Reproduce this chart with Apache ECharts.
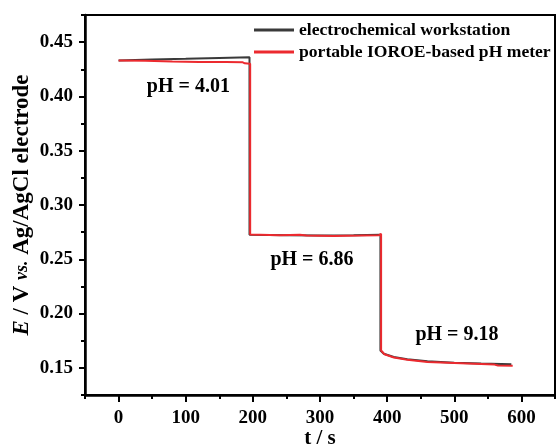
<!DOCTYPE html>
<html>
<head>
<meta charset="utf-8">
<script src="https://cdn.jsdelivr.net/npm/echarts@6/dist/echarts.min.js"></script>
<style>
    html, body { margin: 0; padding: 0; background: #fff; }
    #chart { width: 556px; height: 448px; }
</style>
</head>
<body>
<div id="chart"></div>
<script>
// time (s) and potential (V)
var wsTime = [0, 50, 100, 150, 195, 195, 250, 300, 350, 390, 390, 395, 410, 430, 460, 500, 540, 585];
var wsE    = [0.4332, 0.4340, 0.4347, 0.4355, 0.4362, 0.2725, 0.2722, 0.2720, 0.2722, 0.2725,
              0.1660, 0.1630, 0.1600, 0.1580, 0.1560, 0.1548, 0.1540, 0.1533];

var meterTime = [0, 40, 80, 120, 160, 185, 188, 196, 196, 240, 270, 280, 320, 360, 388, 391,
                 391, 396, 410, 430, 460, 500, 540, 560, 565, 587];
var meterE    = [0.4330, 0.4328, 0.4322, 0.4318, 0.4316, 0.4314, 0.4305, 0.4300, 0.2728, 0.2722,
                 0.2726, 0.2720, 0.2715, 0.2718, 0.2722, 0.2735,
                 0.1660, 0.1625, 0.1595, 0.1575, 0.1555, 0.1545, 0.1535, 0.1530, 0.1522, 0.1520];

var xMajor = [0, 100, 200, 300, 400, 500, 600];
var xMinor = [-50, 50, 150, 250, 350, 450, 550, 650];
var yMajor = [0.15, 0.20, 0.25, 0.30, 0.35, 0.40, 0.45];
var yMinor = [0.125, 0.175, 0.225, 0.275, 0.325, 0.375, 0.425, 0.475];

// pH labels: [t, E, text]
var phLabels = [[104, 0.409, 'pH = 4.01'], [288, 0.2495, 'pH = 6.86'], [504, 0.1805, 'pH = 9.18']];

var seriesNames = ['electrochemical workstation', 'portable IOROE-based pH meter'];

function pairs(t, e) {
    var out = [];
    for (var i = 0; i < t.length; i++) out.push([t[i], e[i]]);
    return out;
}

var font = 'Liberation Serif';
var myChart = echarts.init(document.getElementById('chart'));
var option = {
    animation: false,
    grid: {
        left: 85, right: 1, top: 15, bottom: 53,
        outerBoundsMode: 'none', containLabel: false,
        show: true, borderColor: '#000', borderWidth: 2
    },
    legend: {
        data: seriesNames,
        orient: 'vertical',
        left: 249, top: 16,
        itemWidth: 40, itemHeight: 3, itemGap: 4,
        icon: 'rect',
        textStyle: { fontFamily: font, fontWeight: 'bold', fontSize: 17.6, lineHeight: 18, color: '#000' }
    },
    xAxis: [{
        type: 'value', min: -50, max: 650,
        name: 't / s', nameLocation: 'middle', nameGap: 33, nameMoveOverlap: false,
        nameTextStyle: { fontFamily: font, fontWeight: 'bold', fontSize: 21, color: '#000' },
        axisLine: { onZero: false, lineStyle: { color: '#000', width: 2.5 } },
        axisTick: { customValues: xMajor, length: 7, lineStyle: { color: '#000', width: 2 } },
        axisLabel: { customValues: xMajor, margin: 14, fontFamily: font, fontWeight: 'bold', fontSize: 19, color: '#000' },
        splitLine: { show: false }
    }, {
        type: 'value', min: -50, max: 650, position: 'bottom',
        axisLine: { show: false, onZero: false },
        axisTick: { customValues: xMinor, length: 4, lineStyle: { color: '#000', width: 2 } },
        axisLabel: { show: false },
        splitLine: { show: false }
    }],
    yAxis: [{
        type: 'value', min: 0.125, max: 0.475,
        name: '{i|E} / V {s|vs.} Ag/AgCl electrode', nameLocation: 'middle', nameGap: 51, nameMoveOverlap: false,
        nameTextStyle: {
            fontFamily: font, fontWeight: 'bold', fontSize: 23, color: '#000',
            rich: {
                i: { fontFamily: font, fontWeight: 'bold', fontStyle: 'italic', fontSize: 23, color: '#000' },
                s: { fontFamily: font, fontWeight: 'bold', fontStyle: 'italic', fontSize: 18, color: '#000' }
            }
        },
        axisLine: { onZero: false, lineStyle: { color: '#000', width: 2.5 } },
        axisTick: { customValues: yMajor, length: 6, lineStyle: { color: '#000', width: 2 } },
        axisLabel: {
            customValues: yMajor, margin: 12, fontFamily: font, fontWeight: 'bold', fontSize: 19, color: '#000',
            formatter: function(v) { return v.toFixed(2); }
        },
        splitLine: { show: false }
    }, {
        type: 'value', min: 0.125, max: 0.475, position: 'left',
        axisLine: { show: false, onZero: false },
        axisTick: { customValues: yMinor, length: 4, lineStyle: { color: '#000', width: 2 } },
        axisLabel: { show: false },
        splitLine: { show: false }
    }],
    series: [{
        name: seriesNames[0], type: 'line', showSymbol: false, symbol: 'none',
        data: pairs(wsTime, wsE),
        lineStyle: { color: '#3a3a3a', width: 2 }, itemStyle: { color: '#3a3a3a' }
    }, {
        name: seriesNames[1], type: 'line', showSymbol: false, symbol: 'none',
        data: pairs(meterTime, meterE),
        lineStyle: { color: '#ec2a2f', width: 2 }, itemStyle: { color: '#ec2a2f' },
        markPoint: {
            symbol: 'circle', symbolSize: 0,
            label: { show: true, fontFamily: font, fontWeight: 'bold', fontSize: 20, color: '#000',
                     formatter: function(p) { return p.name; } },
            data: phLabels.map(function(d) { return { name: d[2], coord: [d[0], d[1]] }; })
        }
    }]
};
myChart.setOption(option);
</script>
</body>
</html>
